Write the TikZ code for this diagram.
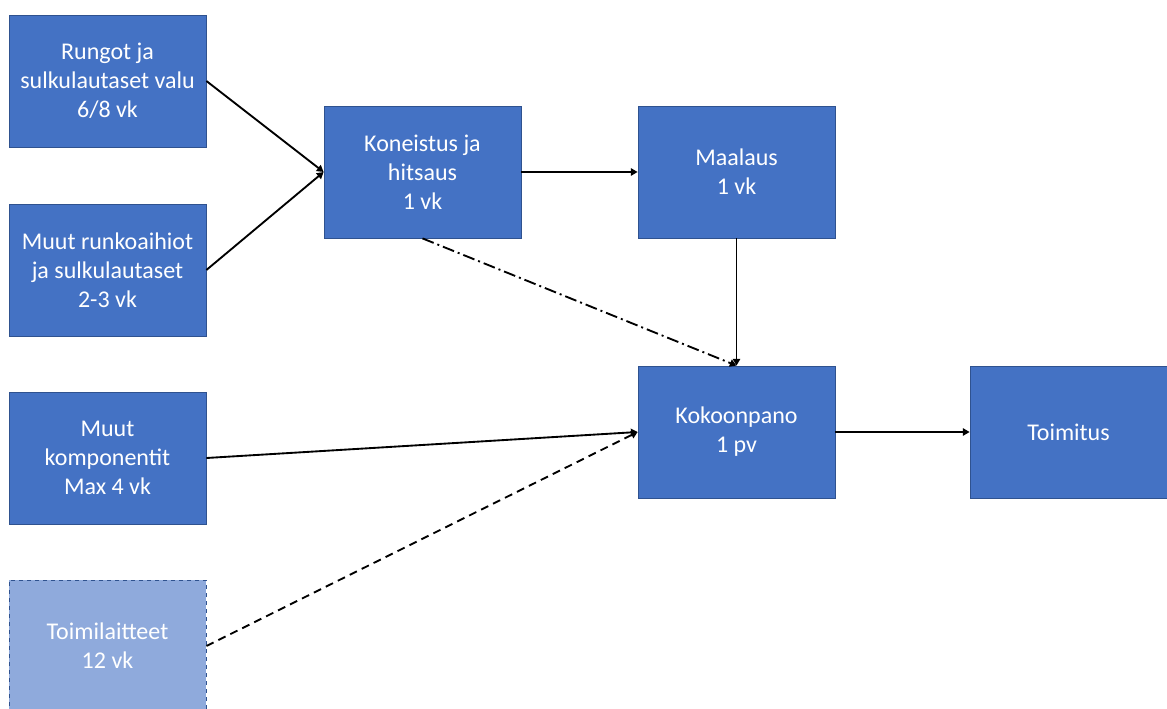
\documentclass[tikz,border=0pt]{standalone}
\usepackage{fontspec}
\setmainfont{Carlito}
\usetikzlibrary{arrows.meta}
\definecolor{boxblue}{HTML}{4472C4}
\definecolor{boxline}{HTML}{2F528F}
\definecolor{lightblue}{HTML}{8FAADC}
\tikzset{
  phase/.style={draw=boxline, line width=0.6pt, fill=boxblue, text=white,
    minimum width=147.75pt, minimum height=99pt, inner sep=0pt,
    align=center, font=\fontsize{18}{21.75}\selectfont},
  optional/.style={phase, fill=lightblue, dashed},
  flow/.style={->, line width=1.4pt},
}
\begin{document}
\begin{tikzpicture}[x=0.75pt, y=-0.75pt, >={Triangle[length=5pt,width=5.5pt]}]
   \useasboundingbox (0,0) rectangle (1167,709);

   % raw parts
   \node[phase] (rungot) at (107.5,81) {Rungot ja\\sulkulautaset valu\\6/8 vk};
   \node[phase] (runko) at (107.5,270) {Muut runkoaihiot\\ja sulkulautaset\\2-3 vk};
   \node[phase] (komp) at (107.5,458) {Muut\\komponentit\\Max 4 vk};
   \node[optional] (toimi) at (107.5,646) {Toimilaitteet\\12 vk};

   % work phases
   \node[phase] (koneistus) at (422.5,172) {Koneistus ja\\hitsaus\\1 vk};
   \node[phase] (maalaus) at (736.5,172) {Maalaus\\1 vk};
   \node[phase] (kokoon) at (736.5,432) {Kokoonpano\\1 pv};
   \node[phase] (toimitus) at (1068.5,432) {Toimitus};

   \draw[flow] (rungot.east) -- (koneistus.west);
   \draw[flow] (runko.east) -- (koneistus.west);
   \draw[flow] (koneistus.east) -- (maalaus.west);
   \draw[flow] (maalaus.south) -- (kokoon.north);
   \draw[flow, dash pattern=on 9pt off 3pt on 1.5pt off 3pt] (koneistus.south) -- (kokoon.north);
   \draw[flow] (komp.east) -- (kokoon.west);
   \draw[flow, dash pattern=on 6pt off 4pt] (toimi.east) -- (kokoon.west);
   \draw[flow] (kokoon.east) -- (toimitus.west);
\end{tikzpicture}
\end{document}
